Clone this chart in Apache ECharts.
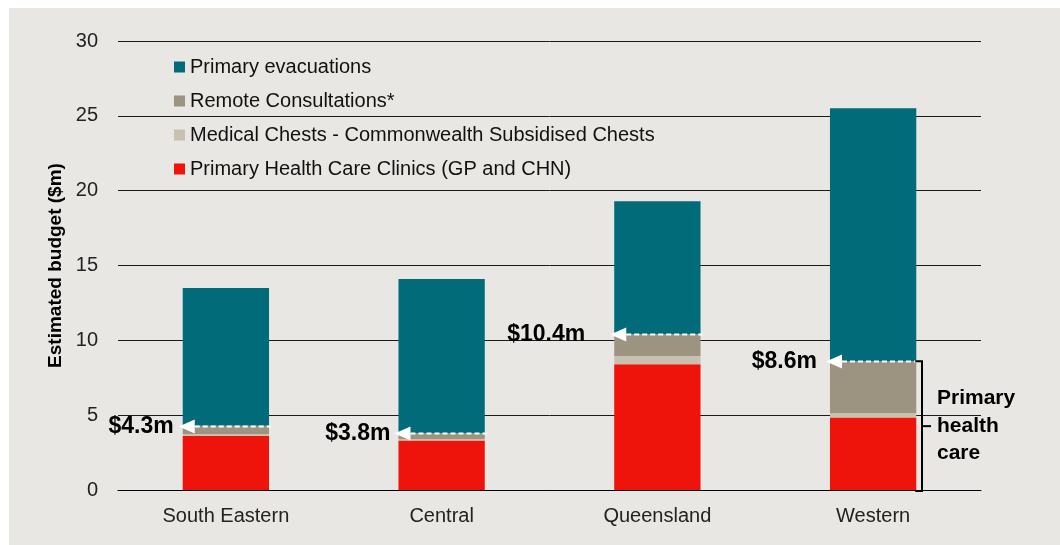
<!DOCTYPE html>
<html>
<head>
<meta charset="utf-8">
<script src="https://cdn.jsdelivr.net/npm/echarts@6/dist/echarts.min.js"></script>
<style>
  html, body { margin: 0; padding: 0; background: #ffffff; }
  #chart { position: absolute; left: 9px; top: 8px; width: 1051px; height: 537px; }
</style>
</head>
<body>
<div id="chart"></div>
<script>
// ---- data ----
const categories = ['South Eastern', 'Central', 'Queensland', 'Western'];
const clinics = [3.6, 3.3, 8.4, 4.85];        // Primary Health Care Clinics (GP and CHN)
const chests = [0.15, 0.1, 0.55, 0.3];        // Medical Chests - Commonwealth Subsidised Chests
const remote = [0.55, 0.4, 1.45, 3.45];       // Remote Consultations*
const evacuations = [9.2, 10.3, 8.9, 16.9];   // Primary evacuations
const seriesNames = [
  'Primary evacuations',
  'Remote Consultations*',
  'Medical Chests - Commonwealth Subsidised Chests',
  'Primary Health Care Clinics (GP and CHN)'
];
const yMin = 0, yMax = 30, yInterval = 5;
const bracketCategory = 'Western';
const bracketLabel = 'Primary\nhealth\ncare';

// ---- styling ----
const FONT = 'Liberation Sans, Arial, sans-serif';
const colors = {
  evac: '#016B79',
  remote: '#9D9381',
  chests: '#C8C1B0',
  clinics: '#EE140C'
};
const BAR_FRAC = 0.4;
const labelGap = [9, 8, 29, 13];   // gap between annotation text and bar, per category

const primaryTotals = categories.map((c, i) => [i, +(clinics[i] + chests[i] + remote[i]).toFixed(2)]);
const bracketIdx = categories.indexOf(bracketCategory);
const bracketData = [primaryTotals[bracketIdx]];

function annotationItem(params, api) {
  const idx = api.value(0), v = api.value(1);
  const p = api.coord([idx, v]);
  const band = api.size([1, 0])[0];
  const bw = band * BAR_FRAC;
  const left = p[0] - bw / 2, right = p[0] + bw / 2;
  const y = Math.round(p[1]) + 0.5;
  return {
    type: 'group',
    children: [
      { type: 'line', shape: { x1: left + 12, y1: y, x2: right + 2, y2: y },
        style: { stroke: '#ffffff', lineWidth: 2, lineDash: [5, 3] } },
      { type: 'polygon', shape: { points: [[left - 4, y], [left + 12, y - 7], [left + 12, y + 7]] },
        style: { fill: '#ffffff' } },
      { type: 'text', x: left - labelGap[idx], y: y,
        style: { text: '$' + v.toFixed(1) + 'm', fill: '#000', fontFamily: FONT, fontSize: 23,
                 fontWeight: 'bold', align: 'right', verticalAlign: 'middle' } }
    ]
  };
}

function bracketItem(params, api) {
  const idx = api.value(0), v = api.value(1);
  const pTop = api.coord([idx, v]);
  const pBot = api.coord([idx, 0]);
  const band = api.size([1, 0])[0];
  const bw = band * BAR_FRAC;
  const right = pTop[0] + bw / 2;
  const x0 = Math.round(right + 6);
  const yT = pTop[1], yB = pBot[1] + 1;
  const mid = (yT + yB) / 2;
  return {
    type: 'group',
    children: [
      { type: 'polyline', shape: { points: [[right - 1, yT], [x0, yT], [x0, yB], [right - 1, yB]] },
        style: { stroke: '#000', lineWidth: 2, fill: null } },
      { type: 'line', shape: { x1: x0, y1: mid, x2: x0 + 9, y2: mid },
        style: { stroke: '#000', lineWidth: 2 } },
      { type: 'text', x: x0 + 15, y: mid,
        style: { text: bracketLabel, fill: '#000', fontFamily: FONT, fontSize: 21, fontWeight: 'bold',
                 lineHeight: 27.5, align: 'left', verticalAlign: 'middle' } }
    ]
  };
}

const chart = echarts.init(document.getElementById('chart'), null, { renderer: 'canvas' });
chart.setOption({
  backgroundColor: '#E8E7E3',
  animation: false,
  textStyle: { fontFamily: FONT },
  grid: { left: 109, right: 79, top: 33, bottom: 55, containLabel: false },
  legend: {
    data: seriesNames,
    orient: 'vertical',
    left: 160,
    top: 44,
    itemWidth: 11,
    itemHeight: 11,
    itemGap: 14,
    icon: 'rect',
    textStyle: { fontFamily: FONT, fontSize: 20, color: '#111', lineHeight: 20 }
  },
  xAxis: {
    type: 'category',
    data: categories,
    axisLine: { show: true, lineStyle: { color: '#000', width: 1 } },
    axisTick: { show: false },
    axisLabel: { fontFamily: FONT, fontSize: 20, color: '#222', margin: 16 },
    splitLine: { show: false }
  },
  yAxis: {
    type: 'value',
    min: yMin, max: yMax, interval: yInterval,
    name: 'Estimated budget ($m)',
    nameLocation: 'middle',
    nameGap: 52,
    nameTextStyle: { fontFamily: FONT, fontSize: 19, fontWeight: 'bold', color: '#000' },
    axisLine: { show: false },
    axisTick: { show: false },
    axisLabel: { fontFamily: FONT, fontSize: 20, color: '#222', margin: 20 },
    splitLine: { show: true, lineStyle: { color: '#1a1a1a', width: 1 } }
  },
  series: [
    { name: seriesNames[3], type: 'bar', stack: 'total', data: clinics, barWidth: (BAR_FRAC * 100) + '%',
      itemStyle: { color: colors.clinics } },
    { name: seriesNames[2], type: 'bar', stack: 'total', data: chests,
      itemStyle: { color: colors.chests } },
    { name: seriesNames[1], type: 'bar', stack: 'total', data: remote,
      itemStyle: { color: colors.remote } },
    { name: seriesNames[0], type: 'bar', stack: 'total', data: evacuations,
      itemStyle: { color: colors.evac } },
    { name: 'annotations', type: 'custom', data: primaryTotals, renderItem: annotationItem,
      clip: false, z: 10, silent: true },
    { name: 'bracket', type: 'custom', data: bracketData, renderItem: bracketItem,
      clip: false, z: 10, silent: true }
  ]
});
</script>
</body>
</html>
